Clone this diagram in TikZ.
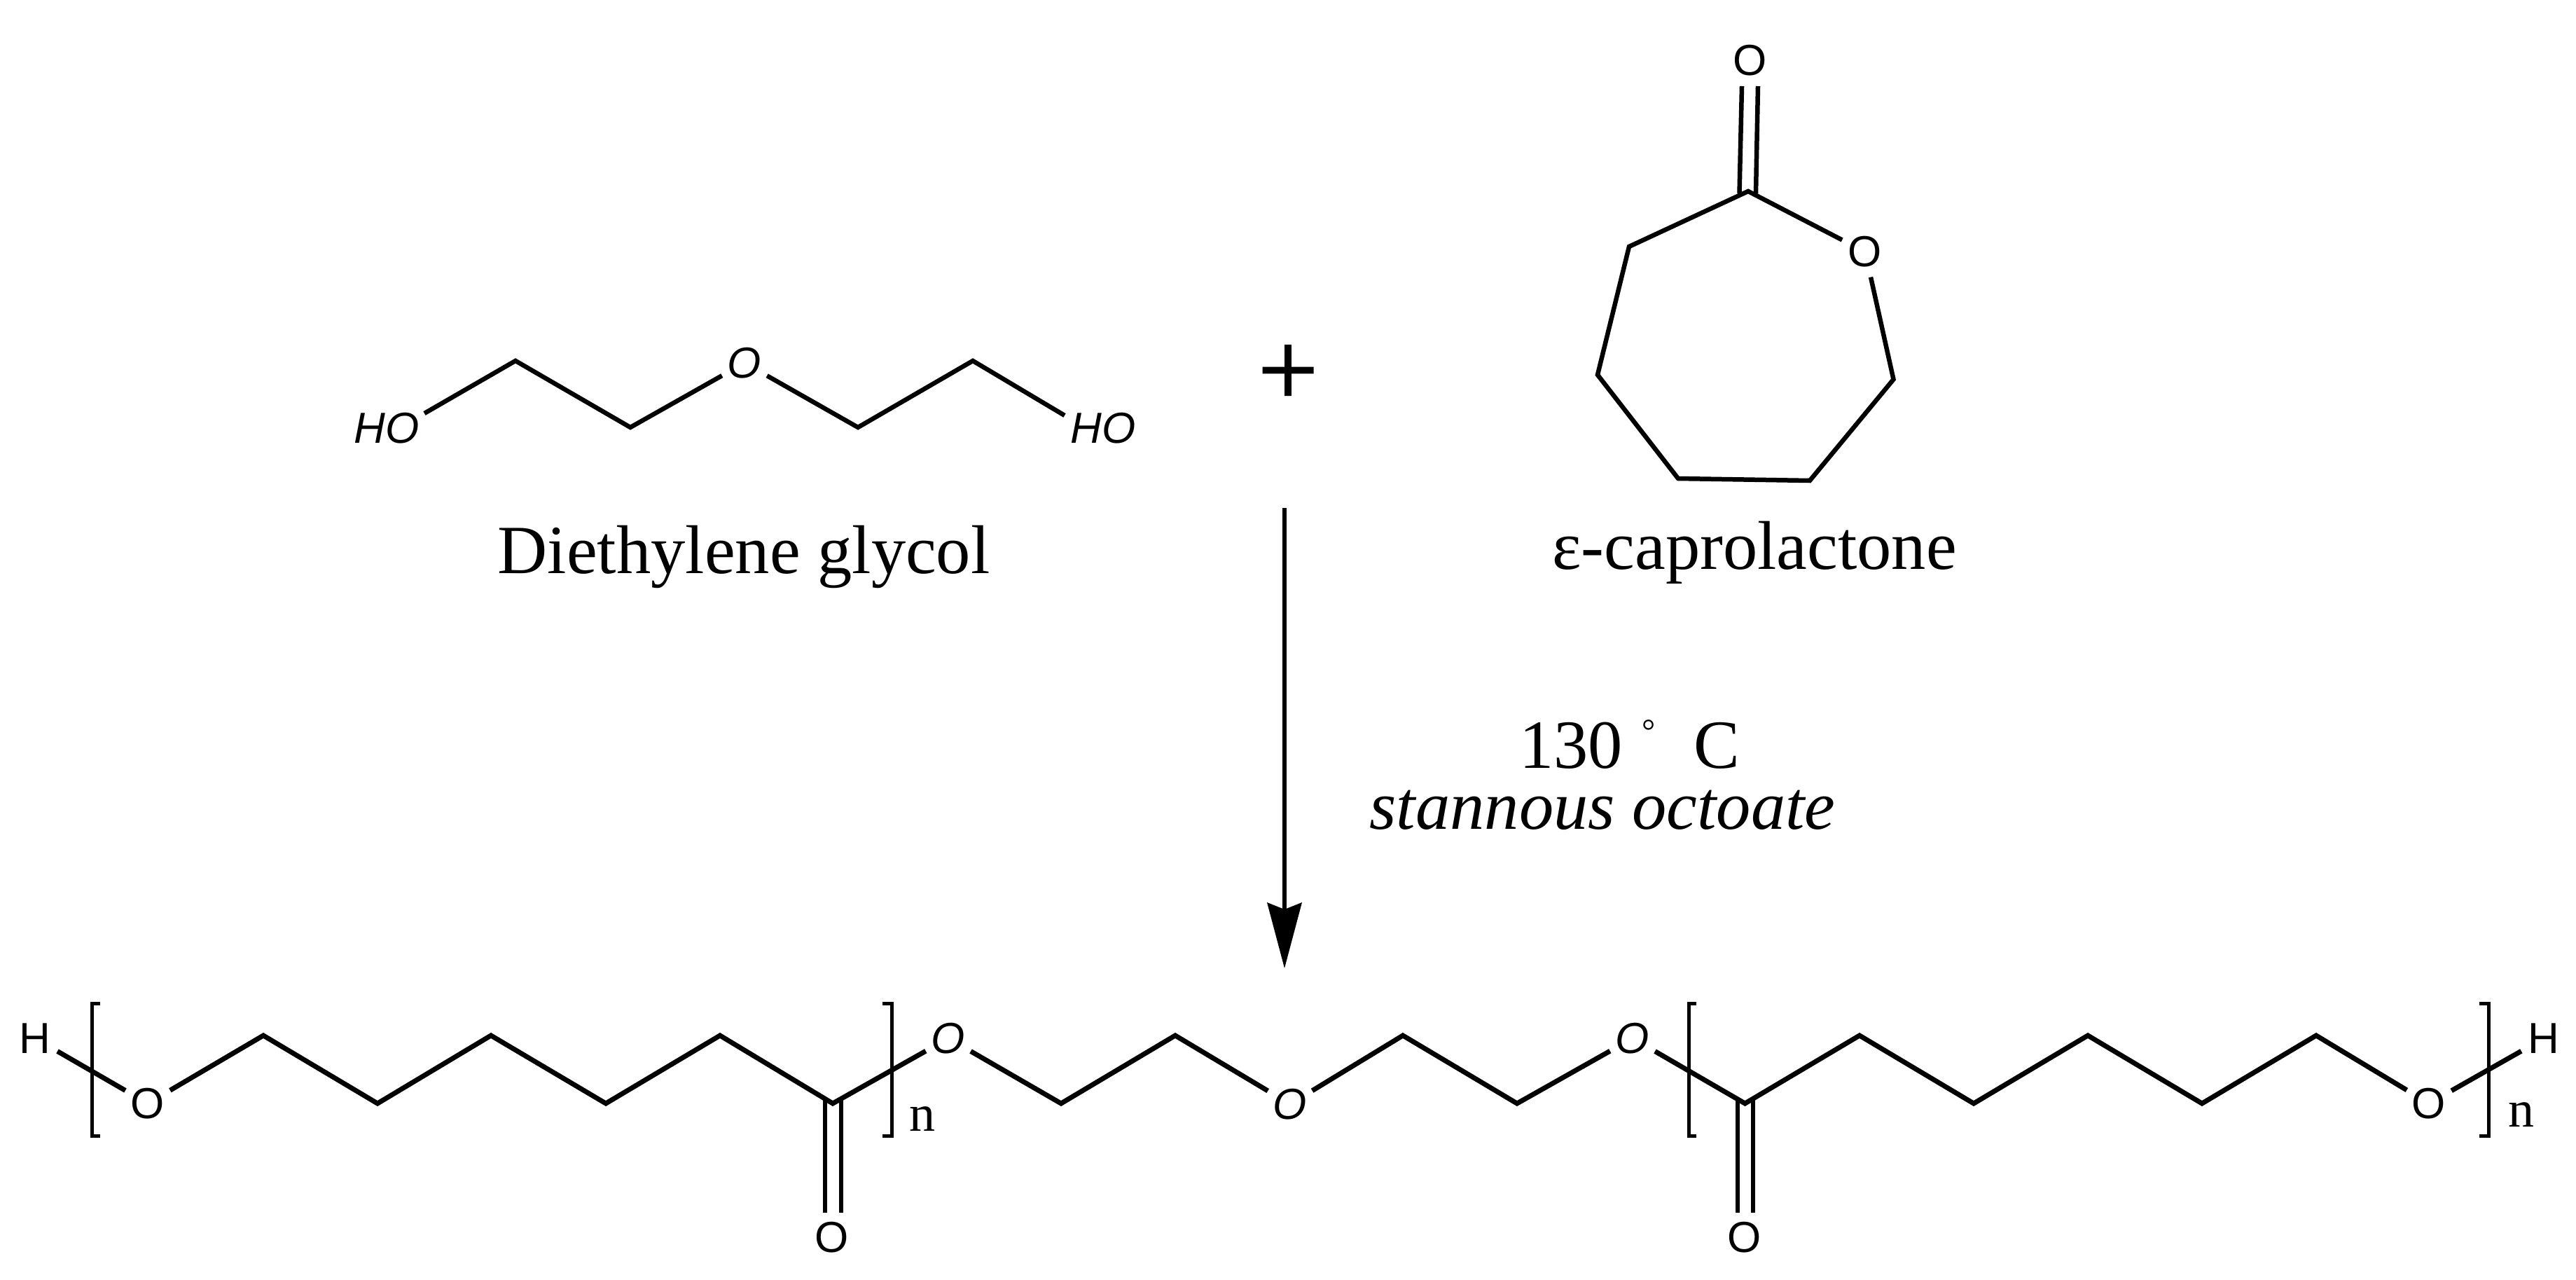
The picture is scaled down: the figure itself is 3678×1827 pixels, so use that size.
\documentclass[tikz,border=0pt]{standalone}
\usepackage{fontspec}
\setmainfont{Liberation Serif}
\newfontfamily\atomfont{Liberation Sans}
\newfontfamily\plusfont[FakeBold=1.5]{Liberation Serif}
\usetikzlibrary{arrows.meta}
\tikzset{
  bond/.style={draw=black,line width=7pt,line join=miter},
  ringbond/.style={draw=black,line width=6.5pt,line join=miter},
  thinbond/.style={draw=black,line width=5.5pt},
  brack/.style={draw=black,line width=5pt},
  atom/.style={circle,inner sep=0pt,outer sep=0pt,minimum size=74pt,font=\atomfont\fontsize{62}{64}\selectfont},
  atomit/.style={atom,font=\atomfont\itshape\fontsize{62}{64}\selectfont},
  hotext/.style={inner sep=0pt,outer sep=0pt,font=\atomfont\itshape\fontsize{62}{64}\selectfont},
  caption/.style={inner sep=0pt,outer sep=0pt,anchor=base,font=\fontsize{98.5}{100}\selectfont},
  repeat/.style={inner sep=0pt,outer sep=0pt,anchor=base,font=\fontsize{74}{76}\selectfont},
  plussign/.style={inner sep=0pt,outer sep=0pt,font=\plusfont\fontsize{152}{155}\selectfont},
  rxn/.style={draw=black,line width=6pt,-{Stealth[length=94pt,width=50pt,inset=10pt,line width=0pt]}}
}
\begin{document}
\begin{tikzpicture}[x=1pt,y=-1pt]
\useasboundingbox (0,0) rectangle (3678,1827);
% --- diethylene glycol
\node[hotext] (hoL) at (552,611) {HO};
\node[hotext] (hoR) at (1575,611) {HO};
\node[atomit] (oD) at (1063,518) {O};
\coordinate (hoLend) at (606,590);
\coordinate (hoRend) at (1520,593);
\coordinate (d1) at (736,515);
\coordinate (d2) at (900,610);
\coordinate (d3) at (1225,610);
\coordinate (d4) at (1389,515);
\draw[ringbond] (hoLend) -- (d1) -- (d2) -- (oD);
\draw[ringbond] (oD) -- (d3) -- (d4) -- (hoRend);
\node[caption] (lblD) at (1062,818) {Diethylene glycol};
% --- plus
\node[plussign] (plus) at (1839,536) {+};
% --- caprolactone
\node[atom] (oTop) at (2499,86.5) {O};
\node[atom] (oRing) at (2663,359.5) {O};
\coordinate (r0) at (2496,273);
\coordinate (r1) at (2703.5,541.5);
\coordinate (r2) at (2584,686);
\coordinate (r3) at (2396,683);
\coordinate (r4) at (2281,535);
\coordinate (r5) at (2326,352);
\coordinate (ctA) at (2487,123);
\coordinate (cbA) at (2483.5,276);
\coordinate (ctB) at (2510,123);
\coordinate (cbB) at (2507,276);
\draw[ringbond] (ctA) -- (cbA);
\draw[ringbond] (ctB) -- (cbB);
\draw[ringbond] (oRing) -- (r0) -- (r5) -- (r4) -- (r3) -- (r2) -- (r1) -- (oRing);
\node[caption] (lblC) at (2505,812) {ε-caprolactone};
% --- reaction arrow
\coordinate (arrTop) at (1834,725);
\coordinate (arrTip) at (1834,1382);
\draw[rxn] (arrTop) -- (arrTip);
\node[caption,anchor=base west] (lblT) at (2169,1096) {130\kern3pt{} \raisebox{36.6pt}{\fontsize{48}{48}\selectfont °}\kern30pt{} C};
\node[caption,font=\itshape\fontsize{98.5}{100}\selectfont] (lblS) at (2288,1183) {stannous octoate};
% --- polymer
\node[atom] (h1) at (50,1482) {H};
\node[atom] (o1) at (211,1575) {O};
\node[atom] (oc1) at (1188,1766) {O};
\node[atomit] (o2) at (1354,1482) {O};
\node[atomit] (o3) at (1842,1576) {O};
\node[atomit] (o4) at (2331,1482) {O};
\node[atom] (oc2) at (2491,1766) {O};
\node[atom] (o5) at (3468,1575) {O};
\node[atom] (h2) at (3632,1482) {H};
\coordinate (p1) at (376,1478);
\coordinate (p2) at (539,1575);
\coordinate (p3) at (701,1478);
\coordinate (p4) at (865,1575);
\coordinate (p5) at (1028,1478);
\coordinate (p6) at (1189,1575);
\coordinate (p7) at (1515,1575);
\coordinate (p8) at (1678,1478);
\coordinate (p9) at (2003,1478);
\coordinate (p10) at (2166,1575);
\coordinate (p11) at (2491.5,1575);
\coordinate (p12) at (2655,1478);
\coordinate (p13) at (2818,1575);
\coordinate (p14) at (2981,1478);
\coordinate (p15) at (3144,1575);
\coordinate (p16) at (3307,1478);
\draw[bond] (h1) -- (o1);
\draw[bond] (o1) -- (p1) -- (p2) -- (p3) -- (p4) -- (p5) -- (p6) -- (o2);
\draw[bond] (o2) -- (p7) -- (p8) -- (o3);
\draw[bond] (o3) -- (p9) -- (p10) -- (o4);
\draw[bond] (o4) -- (p11) -- (p12) -- (p13) -- (p14) -- (p15) -- (p16) -- (o5);
\draw[bond] (o5) -- (h2);
% carbonyl double bonds
\coordinate (e1a) at (1178,1568);
\coordinate (e1b) at (1178,1731);
\coordinate (e2a) at (1201,1568);
\coordinate (e2b) at (1201,1731);
\coordinate (e3a) at (2481,1568);
\coordinate (e3b) at (2481,1731);
\coordinate (e4a) at (2503,1568);
\coordinate (e4b) at (2503,1731);
\draw[thinbond] (e1a) -- (e1b);
\draw[thinbond] (e2a) -- (e2b);
\draw[thinbond] (e3a) -- (e3b);
\draw[thinbond] (e4a) -- (e4b);
% brackets
\draw[brack] (143,1432.5) -- (131,1432.5) -- (131,1621.5) -- (143,1621.5);
\draw[brack] (1260,1432.5) -- (1273,1432.5) -- (1273,1621.5) -- (1260,1621.5);
\draw[brack] (2422,1432.5) -- (2411,1432.5) -- (2411,1621.5) -- (2422,1621.5);
\draw[brack] (3540,1432.5) -- (3553,1432.5) -- (3553,1621.5) -- (3540,1621.5);
\node[repeat] (n1) at (1317,1614) {n};
\node[repeat] (n2) at (3600,1608) {n};
\end{tikzpicture}
\end{document}
